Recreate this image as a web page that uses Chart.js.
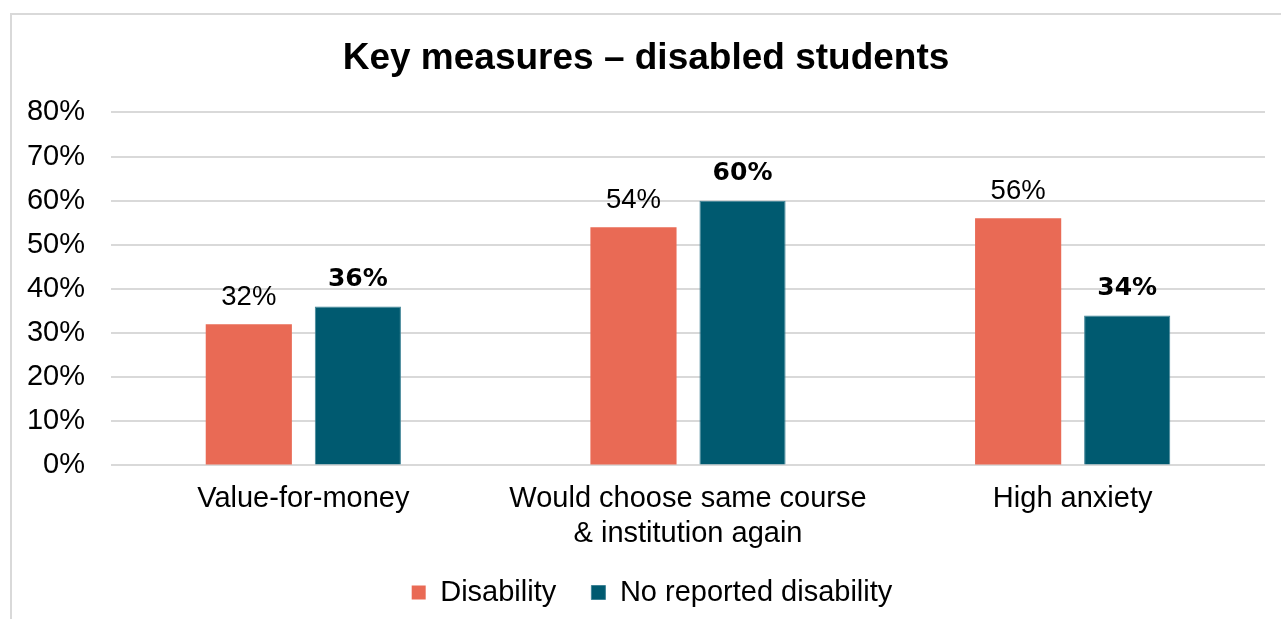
<!DOCTYPE html>
<html>
<head>
<meta charset="utf-8">
<script src="https://cdn.jsdelivr.net/npm/chart.js@4/dist/chart.umd.min.js"></script>
<style>
  html, body { margin: 0; padding: 0; background: #fff; overflow: hidden; }
  body { width: 1281px; height: 619px; position: relative; }
  .frame {
    position: absolute; left: 10px; top: 13px; width: 1300px; height: 640px;
    border: 2px solid #d9d9d9; box-sizing: border-box;
  }
  .wrap { position: absolute; left: 10px; top: 15px; width: 1284px; height: 604px; }
</style>
</head>
<body>
<div class="frame"></div>
<div class="wrap"><canvas id="chart"></canvas></div>
<script>
// Chart data
const categories = ['Value-for-money', ['Would choose same course', '& institution again'], 'High anxiety']
const seriesNames = ['Disability', 'No reported disability']
const disability = [32, 54, 56]
const noDisability = [36, 60, 34]
const yTicks = [0, 10, 20, 30, 40, 50, 60, 70, 80]

const FONT = "Arial, 'Liberation Sans', sans-serif"

// Draw value labels above each bar
const barLabels = {
  id: 'barLabels',
  afterDatasetsDraw(chart) {
    const ctx = chart.ctx
    chart.data.datasets.forEach((ds, i) => {
      const meta = chart.getDatasetMeta(i)
      ctx.save()
      ctx.font = ds.labelBold ? "bold 25px 'DejaVu Sans', sans-serif" : '27.5px ' + FONT
      ctx.fillStyle = '#000'
      ctx.textAlign = 'center'
      ctx.textBaseline = 'middle'
      meta.data.forEach((bar, j) => {
        ctx.fillText(ds.data[j] + '%', bar.x, bar.y - 27)
      })
      ctx.restore()
    })
  }
}

// Legend is centred on the whole canvas, not on the padded area
const legendShift = {
  id: 'legendShift',
  afterLayout(chart) {
    if (chart.legend) {
      chart.legend.left += 6
      chart.legend.right += 6
    }
  }
}

new Chart(document.getElementById('chart'), {
  type: 'bar',
  data: {
    labels: categories,
    datasets: [
      {
        label: seriesNames[0],
        data: disability,
        backgroundColor: '#E96A55',
        borderWidth: 0,
        labelBold: false
      },
      {
        label: seriesNames[1],
        data: noDisability,
        backgroundColor: '#005A70',
        borderColor: '#3F8396',
        borderWidth: 1,
        labelBold: true
      }
    ]
  },
  options: {
    responsive: true,
    maintainAspectRatio: false,
    animation: false,
    categoryPercentage: 0.567,
    barPercentage: 0.79,
    layout: { padding: { left: 17, right: 29, top: 0, bottom: 2 } },
    plugins: {
      title: {
        display: true,
        text: 'Key measures \u2013 disabled students',
        color: '#000',
        font: { family: FONT, size: 37, weight: 'bold', lineHeight: 1.2 },
        padding: { top: 22, bottom: 31 }
      },
      legend: {
        position: 'bottom',
        labels: {
          color: '#000',
          font: { family: FONT, size: 29 },
          boxWidth: 14,
          boxHeight: 14,
          padding: 11,
          // extra trailing space widens the gap between the two entries
          generateLabels: (chart) => {
            const items = Chart.defaults.plugins.legend.labels.generateLabels(chart)
            items[0].text = items[0].text + '   '
            return items
          }
        }
      },
      tooltip: { enabled: false }
    },
    scales: {
      x: {
        grid: { display: false, drawTicks: false },
        border: { display: false },
        ticks: {
          color: '#000',
          font: { family: FONT, size: 29, lineHeight: 1.2 },
          padding: 16,
          maxRotation: 0
        }
      },
      y: {
        min: 0,
        max: 80,
        afterBuildTicks: (axis) => {
          axis.ticks = yTicks.map(v => ({ value: v }))
        },
        afterFit: (axis) => {
          axis.width = 84
        },
        grid: { color: '#d9d9d9', lineWidth: 2, drawTicks: false },
        border: { display: false },
        ticks: {
          color: '#000',
          font: { family: FONT, size: 29 },
          padding: 26,
          callback: v => v + '%'
        }
      }
    }
  },
  plugins: [barLabels, legendShift]
})
</script>
</body>
</html>
